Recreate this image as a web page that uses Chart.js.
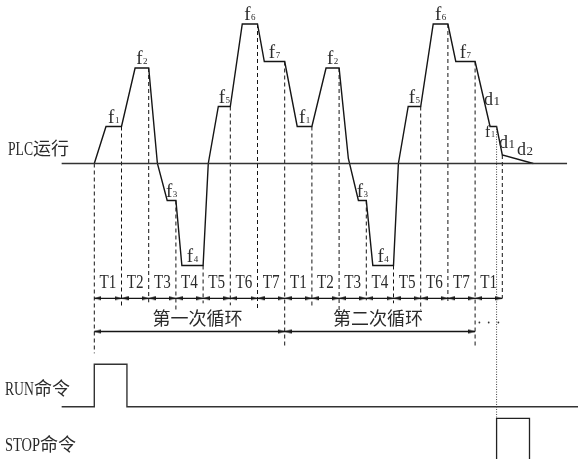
<!DOCTYPE html>
<html>
<head>
<meta charset="utf-8">
<script src="https://cdn.jsdelivr.net/npm/chart.js@4/dist/chart.umd.min.js"></script>
<style>
  html, body { margin: 0; padding: 0; background: #fff; }
  canvas { display: block; }
</style>
</head>
<body>
<canvas id="c" width="578" height="459"></canvas>
<script>
// ---------------- data ----------------
const periodLabels = ['T1','T2','T3','T4','T5','T6','T7','T1','T2','T3','T4','T5','T6','T7','T1'];
const cycleLabels  = ['第一次循环', '第二次循环'];
const cycleSpans   = [[0, 7], [7, 14]];
const freqNames    = ['f1','f2','f3','f4','f5','f6','f7'];
const freqLevels   = [37, 95.5, -37, -102, 57, 139.5, 102];
// output frequency profile: time (in periods since RUN) and frequency
const waveT = [0, 0.43, 1, 1.5, 2, 2.32, 2.68, 3, 3.22, 4, 4.19, 4.56, 5, 5.44, 6, 6.25, 7,
               7.46, 8, 8.52, 9, 9.34, 9.71, 10, 10.24, 11, 11.18, 11.54, 12, 12.46, 13, 13.29, 14,
               14.55, 14.79, 15, 16.14];
const waveF = [0, 37, 37, 95.5, 95.5, 0, -37, -37, -102, -102, 0, 57, 57, 139.5, 139.5, 102, 102,
               37, 37, 95.5, 95.5, 5, -37, -37, -102, -102, 0, 57, 57, 139.5, 139.5, 102, 102,
               37, 37, 8.5, 0];
const runCmd  = [0, 1.2];      // RUN pulse start / end
const stopCmd = [14.79, 16.0]; // STOP pulse start / end
const decelTags = [['d','1'], ['f','1'], ['d','1'], ['d','2']];

// ---------------- layout ----------------
const W = 578, H = 459;
const X0 = 94.3, UNIT = 27.2, BASE = 163.5;
const tRow = -134.8, cycRow = -168, runRow = -243.2, runHigh = 42.4, stopTop = -254.8;
const axisStart = -1.2, plcEnd = 17.38, runEnd = 17.8;
const guideDrop = [55, 10, 4, 13, 5, 7, 12, 50, 10, 18, 2, 5, 12, 5, 48, 0];
const INK = '#151515', TEXT = '#2a2a2a';
const FONT_LATIN = '"Liberation Serif", "DejaVu Serif", serif';
const FONT_CJK = '"Noto Sans CJK SC", "Noto Sans CJK JP", sans-serif';

function waveAt(t) {
  for (let i = 0; i < waveT.length - 1; i++) {
    if (t >= waveT[i] && t <= waveT[i + 1]) {
      const r = (t - waveT[i]) / (waveT[i + 1] - waveT[i]);
      return waveF[i] + r * (waveF[i + 1] - waveF[i]);
    }
  }
  return 0;
}

function arrowImg() {
  const L = 7, h = 2.1;
  const c = document.createElement('canvas');
  c.width = 2 * L; c.height = 6;
  const g = c.getContext('2d');
  g.fillStyle = '#111';
  g.beginPath(); g.moveTo(L, 3); g.lineTo(0, 3 - h); g.lineTo(0, 3 + h); g.closePath(); g.fill();
  return c;
}
const ARROW = arrowImg();

// ---------------- datasets ----------------
const wave = waveT.map((t, i) => ({ x: t, y: waveF[i] }));

const guides = [];
for (let k = 0; k <= periodLabels.length; k++) {
  guides.push({ x: k, y: waveAt(k) }, { x: k, y: tRow - guideDrop[k] }, { x: k, y: null });
}

const periodHeads = [], periodRot = [];
periodLabels.forEach((_, k) => {
  periodHeads.push({ x: k, y: tRow }, { x: k + 1, y: tRow });
  periodRot.push(180, 0);
});
const cycleHeads = [], cycleRot = [], cycleShaft = [];
cycleSpans.forEach(([a, b]) => {
  cycleHeads.push({ x: a, y: cycRow }, { x: b, y: cycRow });
  cycleRot.push(180, 0);
  cycleShaft.push({ x: a, y: cycRow }, { x: b, y: cycRow }, { x: b, y: null });
});

const runLine = [
  { x: axisStart, y: runRow }, { x: runCmd[0], y: runRow }, { x: runCmd[0], y: runRow + runHigh },
  { x: runCmd[1], y: runRow + runHigh }, { x: runCmd[1], y: runRow }, { x: runEnd, y: runRow }
];
const stopLine = [
  { x: stopCmd[0], y: BASE - H - 5 }, { x: stopCmd[0], y: stopTop },
  { x: stopCmd[1], y: stopTop }, { x: stopCmd[1], y: BASE - H - 5 }
];
const stopGuide = [{ x: stopCmd[0], y: waveAt(stopCmd[0]) }, { x: stopCmd[0], y: stopTop }];

function lineDs(data, opts) {
  return Object.assign({ data, showLine: true, pointRadius: 0, pointHoverRadius: 0, borderColor: INK, borderWidth: 1.3,
    fill: false, tension: 0, spanGaps: false }, opts || {});
}

// ---------------- text helpers ----------------
function drawMixed(ctx, str, x, base, latinSize, sx, cjkSize) {
  const runs = [];
  for (const ch of str) {
    const latin = ch.charCodeAt(0) < 128;
    if (runs.length && runs[runs.length - 1].latin === latin) runs[runs.length - 1].s += ch;
    else runs.push({ latin, s: ch });
  }
  ctx.textAlign = 'left';
  let cx = x;
  runs.forEach(r => {
    ctx.font = r.latin ? `${latinSize}px ${FONT_LATIN}` : `${cjkSize}px ${FONT_CJK}`;
    const w = ctx.measureText(r.s).width * (r.latin ? sx : 1);
    ctx.save();
    ctx.translate(cx, base);
    if (r.latin) ctx.scale(sx, 1);
    ctx.fillText(r.s, 0, 0);
    ctx.restore();
    cx += w;
  });
}
function drawSub(ctx, main, sub, x, base, ms, ss, align) {
  ctx.font = `${ms}px ${FONT_LATIN}`; const w1 = ctx.measureText(main).width;
  ctx.font = `${ss}px ${FONT_LATIN}`; const w2 = ctx.measureText(sub).width;
  const x0 = align === 'center' ? x - (w1 + w2 + 0.5) / 2 : x;
  ctx.textAlign = 'left';
  ctx.font = `${ms}px ${FONT_LATIN}`; ctx.fillText(main, x0, base);
  ctx.font = `${ss}px ${FONT_LATIN}`; ctx.fillText(sub, x0 + w1 + 0.5, base);
}

const textPlugin = {
  id: 'diagramText',
  afterDatasetsDraw(chart) {
    const { ctx } = chart;
    const px = v => chart.scales.x.getPixelForValue(v);
    const py = v => chart.scales.y.getPixelForValue(v);
    ctx.save();
    ctx.fillStyle = TEXT;
    ctx.textBaseline = 'alphabetic';

    // row titles
    drawMixed(ctx, 'PLC运行', 8, py(0) - 8.5, 19, 0.72, 18);
    drawMixed(ctx, 'RUN命令', 5, py(runRow) - 11.7, 19, 0.72, 18);
    drawMixed(ctx, 'STOP命令', 5, py(stopTop) + 32.4, 19, 0.76, 18);

    // frequency step labels on each plateau
    for (let i = 0; i < waveT.length - 1; i++) {
      if (waveF[i] === waveF[i + 1] && waveF[i] !== 0 && waveT[i + 1] <= cycleSpans[1][1]) {
        const name = freqNames[freqLevels.indexOf(waveF[i])];
        const cx = (px(waveT[i]) + px(waveT[i + 1])) / 2;
        drawSub(ctx, name[0], name.slice(1), cx, py(waveF[i]) - 4, 19, 9, 'center');
      }
    }

    // deceleration labels after STOP
    const anchors = [[33, -6, -21.5, 18, 13], [33, -5, 10.2, 16, 8], [35, -3.3, -6.7, 18, 13], [35, 14.7, 0, 18, 13]];
    decelTags.forEach(([m, s], j) => {
      const [v, dx, dy, ms, ss] = anchors[j];
      drawSub(ctx, m, s, px(waveT[v]) + dx, py(waveF[v]) + dy, ms, ss, 'left');
    });

    // period labels
    periodLabels.forEach((lab, k) => {
      const cx = (px(k) + px(k + 1)) / 2;
      ctx.font = `18px ${FONT_LATIN}`;
      const w = ctx.measureText(lab).width * 0.84;
      ctx.save(); ctx.translate(cx - w / 2, py(tRow) - 10); ctx.scale(0.84, 1);
      ctx.textAlign = 'left'; ctx.fillText(lab, 0, 0); ctx.restore();
    });

    // cycle labels
    const cycOffset = [8, -2];
    ctx.font = `18px ${FONT_CJK}`;
    ctx.textAlign = 'center';
    ctx.textBaseline = 'middle';
    cycleLabels.forEach((lab, j) => {
      const [a, b] = cycleSpans[j];
      ctx.fillText(lab, (px(a) + px(b)) / 2 + cycOffset[j], py(cycRow) - 13.5);
    });

    // continuation dots
    ctx.fillStyle = '#333';
    [4.3, 13.6, 23.3].forEach(d => {
      ctx.beginPath(); ctx.arc(px(cycleSpans[1][1]) + d, py(cycRow) - 9, 0.9, 0, Math.PI * 2); ctx.fill();
    });
    ctx.restore();
  }
};

new Chart(document.getElementById('c'), {
  type: 'scatter',
  data: {
    datasets: [
      lineDs([{ x: axisStart, y: 0 }, { x: plcEnd, y: 0 }], { borderColor: '#333', borderWidth: 1.4 }),
      lineDs(guides, { borderWidth: 1, borderDash: [4, 3] }),
      lineDs(stopGuide, { borderWidth: 1, borderDash: [1, 1.5], borderColor: '#444' }),
      lineDs(wave, { borderWidth: 1.4 }),
      lineDs([{ x: 0, y: tRow }, { x: periodLabels.length, y: tRow }], { borderWidth: 1.3 }),
      lineDs(cycleShaft, { borderWidth: 1.3 }),
      { data: periodHeads, showLine: false, pointRadius: 3, pointHoverRadius: 3, pointStyle: ARROW, pointRotation: periodRot },
      { data: cycleHeads, showLine: false, pointRadius: 3, pointHoverRadius: 3, pointStyle: ARROW, pointRotation: cycleRot },
      lineDs(runLine, { borderColor: '#333', borderWidth: 1.4 }),
      lineDs(stopLine, { borderColor: '#222', borderWidth: 1.3 })
    ]
  },
  options: {
    responsive: false,
    devicePixelRatio: 1,
    animation: false,
    events: [],
    layout: { padding: 0, autoPadding: false },
    scales: {
      x: { type: 'linear', display: false, min: -X0 / UNIT, max: (W - X0) / UNIT },
      y: { type: 'linear', display: false, min: BASE - H, max: BASE }
    },
    plugins: { legend: { display: false }, tooltip: { enabled: false } }
  },
  plugins: [textPlugin]
});
</script>
</body>
</html>
